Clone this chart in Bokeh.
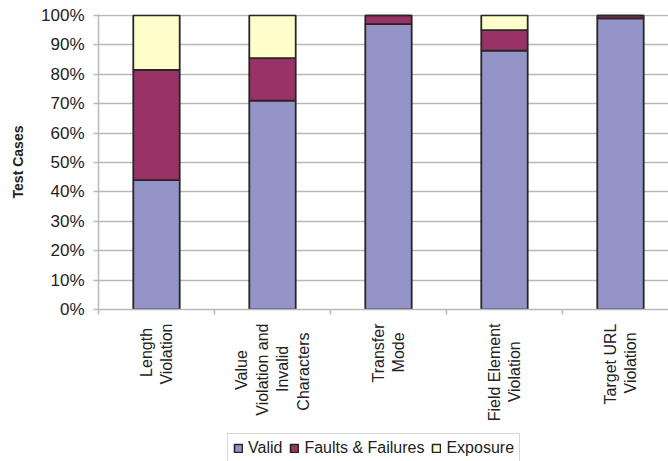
from bokeh.plotting import figure
from bokeh.models import (Range1d, FixedTicker, NumeralTickFormatter, Legend, LegendItem,
                          ColumnDataSource, LinearAxis, Grid)
from bokeh.layouts import column
from bokeh.embed import file_html
from bokeh.resources import INLINE
import math

category_lines = [["Length", "Violation"],
                  ["Value", "Violation and", "Invalid", "Characters"],
                  ["Transfer", "Mode"],
                  ["Field Element", "Violation"],
                  ["Target URL", "Violation"]]
valid = [44, 71, 97, 88, 99]
faults = [37.5, 14.5, 3, 7, 1]
exposure = [18.5, 14.5, 0, 5, 0]
series = ["Valid", "Faults & Failures", "Exposure"]
colors = ["#9494C8", "#993366", "#FFFFCC"]
y_ticks = [i / 10 for i in range(11)]

# Arial/Liberation Sans advance widths (per 1000 em) for centering the rotated label lines
W = {' ': 278, 'a': 556, 'b': 556, 'c': 500, 'd': 556, 'e': 556, 'f': 278, 'g': 556, 'h': 556,
     'i': 222, 'l': 222, 'm': 833, 'n': 556, 'o': 556, 'r': 333, 's': 500, 't': 278, 'u': 556,
     'v': 500, 'V': 667, 'L': 556, 'C': 722, 'I': 278, 'M': 833, 'F': 611, 'E': 667, 'T': 611,
     'R': 722, 'U': 722}


def tw(s):
    return sum(W.get(ch, 556) for ch in s)


def centered(lines):
    m = max(tw(l) for l in lines)
    out = []
    for l in lines:
        n = int(round((m - tw(l)) / 2 / 278))
        out.append(l + "\u00a0" * n)
    return "\n".join(out)


xs = [i + 0.5 for i in range(len(category_lines))]
src = ColumnDataSource(dict(
    x=xs,
    valid=[v / 100 for v in valid],
    faults=[v / 100 for v in faults],
    exposure=[v / 100 for v in exposure],
))

FONT = "Liberation Sans"
STACK = ["valid", "faults", "exposure"]

p = figure(width=668, height=425, output_backend="svg", toolbar_location=None,
           x_range=Range1d(0, 4.914), y_range=Range1d(0, 1.003),
           min_border_left=98, min_border_right=0, min_border_top=14, min_border_bottom=116,
           x_axis_type=None, y_axis_type=None)
p.outline_line_color = None
p.background_fill_color = "white"

rs = p.vbar_stack(STACK, x="x", width=0.4, source=src,
                  fill_color=colors, line_color="#262626", line_width=1.8)

# y axis
ya = LinearAxis(ticker=FixedTicker(ticks=y_ticks, minor_ticks=[]),
                formatter=NumeralTickFormatter(format="0%"))
ya.axis_label = "Test Cases"
ya.axis_label_text_font = FONT
ya.axis_label_text_font_style = "bold"
ya.axis_label_text_font_size = "14px"
ya.axis_label_text_color = "#222222"
ya.axis_label_standoff = 12
ya.major_label_text_font = FONT
ya.major_label_text_font_size = "17px"
ya.major_label_text_color = "#222222"
ya.axis_line_color = "#b8b8b8"
ya.axis_line_width = 1.5
ya.major_tick_line_color = "#b8b8b8"
ya.major_tick_line_width = 1.5
ya.major_tick_out = 5
ya.major_tick_in = 0
ya.major_label_standoff = 9
p.add_layout(ya, "left")

# x axis
xa = LinearAxis(ticker=FixedTicker(ticks=xs, minor_ticks=[0, 1, 2, 3, 4]))
xa.major_label_overrides = {x: centered(c) for x, c in zip(xs, category_lines)}
xa.major_label_orientation = math.pi / 2
xa.major_label_text_font = FONT
xa.major_label_text_font_size = "16px"
xa.major_label_text_color = "#222222"
xa.major_label_standoff = 9
xa.major_tick_out = 0
xa.major_tick_in = 0
xa.minor_tick_out = 5
xa.minor_tick_in = 0
xa.minor_tick_line_color = "#b8b8b8"
xa.minor_tick_line_width = 1.5
xa.axis_line_color = "#b8b8b8"
xa.axis_line_width = 1.5
p.add_layout(xa, "below")

p.xgrid.visible = False
p.add_layout(Grid(dimension=1, ticker=FixedTicker(ticks=y_ticks), grid_line_color="#b8b8b8",
                  grid_line_width=1.5))

# legend strip below the chart (its frame is aligned with the chart frame, left at 98)
lf = figure(width=668, height=36, output_backend="svg", toolbar_location=None,
            x_range=Range1d(0, 4.914), y_range=Range1d(0, 1),
            min_border_left=0, min_border_right=0, min_border_top=0, min_border_bottom=0,
            x_axis_type=None, y_axis_type=None)
lf.outline_line_color = None
lf.xgrid.visible = False
lf.ygrid.visible = False
nan = float("nan")
placeholder = ColumnDataSource(dict(x=[nan], valid=[nan], faults=[nan], exposure=[nan]))
lrs = lf.vbar_stack(STACK, x="x", width=0.4, source=placeholder,
                    fill_color=colors, line_color="#262626", line_width=1.6)

legend = Legend(items=[LegendItem(label=s, renderers=[r]) for s, r in zip(series, lrs)],
                orientation="horizontal", location=(129, -2))
legend.label_text_font = FONT
legend.label_text_font_size = "16px"
legend.label_text_color = "#222222"
legend.glyph_width = 10
legend.glyph_height = 10
legend.label_standoff = 5
legend.spacing = 7
legend.padding = 5
legend.margin = 0
legend.label_height = 14
legend.border_line_color = "#b0b0b0"
legend.border_line_width = 1
legend.background_fill_alpha = 1
lf.add_layout(legend, "center")

layout = column(p, lf, spacing=0)
open("out.html", "w").write(file_html(layout, INLINE))
